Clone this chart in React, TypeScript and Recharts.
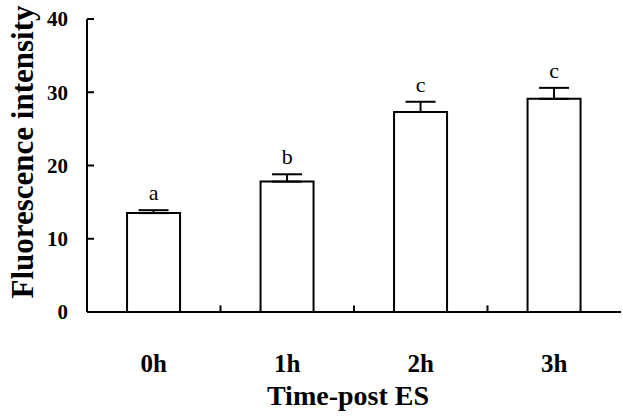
import React from "react";
import {
  ComposedChart,
  Bar,
  Line,
  XAxis,
  YAxis,
  ErrorBar,
  LabelList,
  ReferenceLine,
} from "recharts";

const times = ["0h", "1h", "2h", "3h"];
const intensity = [13.5, 17.8, 27.3, 29.1];
const errors = [0.4, 1.0, 1.4, 1.5];
const letters = ["a", "b", "c", "c"];
const yTicks = [0, 10, 20, 30, 40];

// small upward marks on the x axis between groups
const dividerCats = times.slice(1);
const dividerLen = 0.9;

const data = times.map((t, i) => ({
  time: t,
  value: intensity[i],
  err: [0, errors[i]],
  top: intensity[i] + errors[i],
  letter: letters[i],
}));

const serif = "'Liberation Serif', 'Times New Roman', serif";

export default function App() {
  return (
    <div style={{ position: "absolute", left: 0, top: 0, background: "#fff" }}>
      <ComposedChart
        width={623}
        height={417}
        data={data}
        margin={{ top: 19, right: 2, bottom: 0, left: 0 }}
        barCategoryGap="30%"
      >
        <XAxis
          dataKey="time"
          height={105}
          tickLine={false}
          axisLine={{ stroke: "#000", strokeWidth: 2 }}
          tickMargin={36}
          tick={{ fill: "#000", fontSize: 25, fontWeight: "bold", fontFamily: serif }}
          label={{
            value: "Time-post ES",
            position: "insideBottom",
            offset: 12,
            dx: -6,
            fill: "#000",
            fontSize: 28,
            fontWeight: "bold",
            fontFamily: serif,
          }}
        />
        <YAxis
          width={87}
          domain={[0, 40]}
          ticks={yTicks}
          interval={0}
          axisLine={{ stroke: "#000", strokeWidth: 2 }}
          tickLine={{ stroke: "#000", strokeWidth: 2 }}
          tickSize={-7}
          tickMargin={26}
          tick={{ fill: "#000", fontSize: 21, fontWeight: "bold", fontFamily: serif }}
          label={{
            content: () => (
              <text
                x={33}
                y={152}
                transform="rotate(-90 33 152)"
                textAnchor="middle"
                fill="#000"
                fontSize={31}
                fontWeight="bold"
                fontFamily={serif}
              >
                Fluorescence intensity
              </text>
            ),
          }}
        />
        {dividerCats.map((c) => (
          <ReferenceLine
            key={c}
            position="start"
            segment={[
              { x: c, y: 0 },
              { x: c, y: dividerLen },
            ]}
            stroke="#000"
            strokeWidth={2}
          />
        ))}
        <Bar
          dataKey="value"
          fill="#fff"
          stroke="#000"
          strokeWidth={2}
          isAnimationActive={false}
        >
          <ErrorBar dataKey="err" width={15} stroke="#000" strokeWidth={2} />
        </Bar>
        <Line
          dataKey="top"
          stroke="none"
          dot={false}
          activeDot={false}
          isAnimationActive={false}
        >
          <LabelList
            dataKey="letter"
            position="top"
            offset={10}
            fill="#000"
            fontSize={22}
            fontFamily={serif}
          />
        </Line>
      </ComposedChart>
    </div>
  );
}
